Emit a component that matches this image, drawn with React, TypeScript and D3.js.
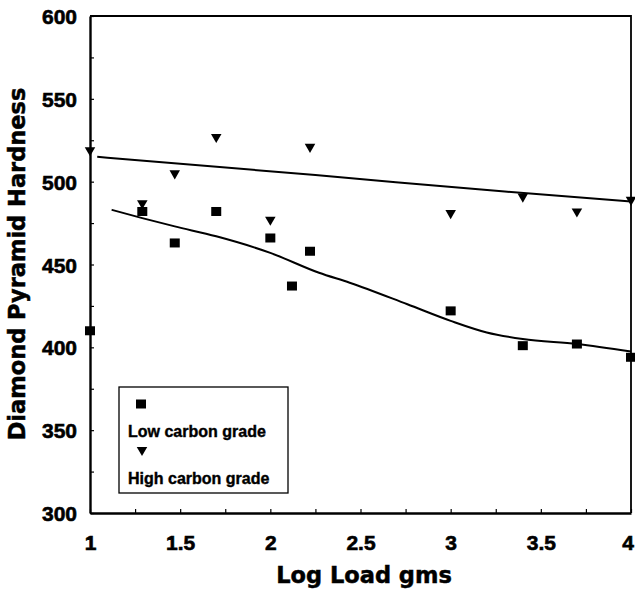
import React, { useEffect, useRef } from "react";
import * as d3 from "d3";

const W = 635;
const H = 594;

// Measured points: Low carbon grade (squares)
const lowX = [1.0, 1.29, 1.47, 1.7, 2.0, 2.12, 2.22, 3.0, 3.4, 3.7, 4.0];
const lowY = [410, 482, 463, 482, 466, 437, 458, 422, 401, 402, 394];

// Measured points: High carbon grade (down triangles)
const highX = [1.0, 1.29, 1.47, 1.7, 2.0, 2.22, 3.0, 3.4, 3.7, 4.0];
const highY = [519, 487, 505, 527, 477, 521, 481, 491, 482, 489];

// Fitted curves
const lowFitX = [1.12, 1.29, 1.47, 1.7, 2.0, 2.27, 2.44, 2.76, 3.0, 3.2, 3.4, 3.7, 4.0];
const lowFitY = [483, 478, 473, 467, 457, 445, 439, 426, 416, 409, 405, 402, 397.5];
const highFitX = [1.04, 2.25, 3.3, 4.0];
const highFitY = [515, 504, 494, 488];

const xMajorTicks = [1, 1.5, 2, 2.5, 3, 3.5, 4];
const xMinorTicks = [1.25, 1.75, 2.25, 2.75, 3.25, 3.75];
const yMajorTicks = [300, 350, 400, 450, 500, 550, 600];
const yMinorTicks = [325, 375, 425, 475, 525, 575];

const xTitle = "Log Load gms";
const yTitle = "Diamond Pyramid Hardness";
const legendLabels = ["Low carbon grade", "High carbon grade"];

const TICK_FONT = "'Liberation Sans', Arial, Helvetica, sans-serif";
const TITLE_FONT = "'DejaVu Sans', Verdana, sans-serif";

export default function App() {
  const ref = useRef<SVGSVGElement>(null);

  useEffect(() => {
    const svg = d3.select(ref.current);
    svg.selectAll("*").remove();

    const m = { left: 90, right: 631, top: 16, bottom: 513 };
    const x = d3.scaleLinear().domain([1, 4]).range([m.left, m.right]);
    const y = d3.scaleLinear().domain([300, 600]).range([m.bottom, m.top]);

    svg.append("rect").attr("width", W).attr("height", H).attr("fill", "#fff");

    const heavy = (sel: any, font: string, size: string, sw = 0.6) =>
      sel
        .attr("fill", "#000")
        .attr("stroke", "#000")
        .attr("stroke-width", sw)
        .style("font-family", font)
        .style("font-weight", "bold")
        .style("font-size", size);

    // frame top and right
    svg
      .append("path")
      .attr("d", `M${x(1)},${y(600)}H${x(4)}V${y(300)}`)
      .attr("fill", "none")
      .attr("stroke", "#000")
      .attr("stroke-width", 1.8);

    // x axis
    const gx = svg
      .append("g")
      .attr("transform", `translate(0,${m.bottom})`)
      .call(
        d3
          .axisBottom(x)
          .tickValues([...xMajorTicks, ...xMinorTicks])
          .tickSizeInner(-4)
          .tickSizeOuter(0)
          .tickFormat((d: any) => (xMajorTicks.includes(d) ? String(d) : ""))
      );
    gx.select(".domain").attr("stroke-width", 2.4).attr("stroke", "#000");
    gx.selectAll(".tick line").attr("stroke", "#000").attr("stroke-width", 1.2);
    heavy(gx.selectAll("text").attr("y", 36.5).attr("dy", null), TICK_FONT, "21px");
    gx.selectAll(".tick text")
      .filter((d: any) => d === 4)
      .attr("text-anchor", "end")
      .attr("dx", 2.5);

    // y axis
    const gy = svg
      .append("g")
      .attr("transform", `translate(${m.left},0)`)
      .call(
        d3
          .axisLeft(y)
          .tickValues([...yMajorTicks, ...yMinorTicks])
          .tickSizeInner(-4)
          .tickSizeOuter(0)
          .tickFormat((d: any) => (yMajorTicks.includes(d) ? String(d) : ""))
      );
    gy.select(".domain").attr("stroke-width", 2.4).attr("stroke", "#000");
    gy.selectAll(".tick line").attr("stroke", "#000").attr("stroke-width", 1.2);
    heavy(gy.selectAll("text").attr("x", -13).attr("dy", "0.36em"), TICK_FONT, "21px");

    // titles
    heavy(
      svg.append("text").attr("x", 364).attr("y", 583).attr("text-anchor", "middle").text(xTitle),
      TITLE_FONT,
      "22.5px",
      0.5
    );
    heavy(
      svg
        .append("text")
        .attr("transform", `translate(25,264) rotate(-90)`)
        .attr("text-anchor", "middle")
        .text(yTitle),
      TITLE_FONT,
      "22.5px",
      0.5
    );

    // fitted lines
    const line = d3
      .line<[number, number]>()
      .x((d) => x(d[0]))
      .y((d) => y(d[1]))
      .curve(d3.curveMonotoneX);
    svg
      .append("path")
      .attr("d", line(highFitX.map((v, i) => [v, highFitY[i]]) as [number, number][]))
      .attr("fill", "none")
      .attr("stroke", "#000")
      .attr("stroke-width", 2);
    svg
      .append("path")
      .attr("d", line(lowFitX.map((v, i) => [v, lowFitY[i]]) as [number, number][]))
      .attr("fill", "none")
      .attr("stroke", "#000")
      .attr("stroke-width", 2);

    // markers
    const sq = 10;
    svg
      .append("g")
      .selectAll("rect")
      .data(lowX.map((v, i) => [v, lowY[i]]))
      .join("rect")
      .attr("x", (d) => x(d[0]) - sq / 2)
      .attr("y", (d) => y(d[1]) - 4.5)
      .attr("width", sq)
      .attr("height", 9)
      .attr("fill", "#000");

    const tri = d3.symbol(d3.symbolTriangle, 48)();
    svg
      .append("g")
      .selectAll("path")
      .data(highX.map((v, i) => [v, highY[i]]))
      .join("path")
      .attr("d", tri)
      .attr("transform", (d) => `translate(${x(d[0])},${y(d[1])}) rotate(180)`)
      .attr("fill", "#000");

    // legend
    const lg = svg.append("g");
    lg.append("rect")
      .attr("x", 119)
      .attr("y", 387)
      .attr("width", 169)
      .attr("height", 106)
      .attr("fill", "#fff")
      .attr("stroke", "#000")
      .attr("stroke-width", 1.3);
    lg.append("rect").attr("x", 136).attr("y", 399.5).attr("width", sq).attr("height", 9).attr("fill", "#000");
    lg.append("path").attr("d", tri).attr("transform", "translate(142,450) rotate(180)").attr("fill", "#000");
    legendLabels.forEach((t, i) => {
      heavy(
        lg.append("text").attr("x", 128).attr("y", i === 0 ? 437 : 484).text(t),
        TICK_FONT,
        "16px",
        0.4
      );
    });
  }, []);

  return (
    <svg
      ref={ref}
      width={W}
      height={H}
      style={{ position: "absolute", left: 0, top: 0, background: "#fff" }}
    />
  );
}
